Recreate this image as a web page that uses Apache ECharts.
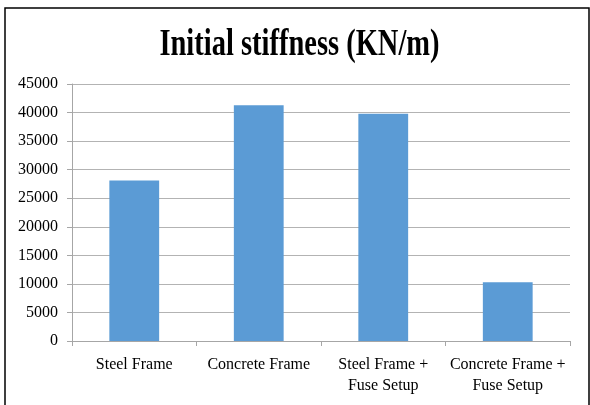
<!DOCTYPE html>
<html><head><meta charset="utf-8">
<script src="https://cdn.jsdelivr.net/npm/echarts@6/dist/echarts.min.js"></script>
<style>html,body{margin:0;padding:0;background:#fff}#c{width:590px;height:405px}</style>
</head><body><div id="c"></div>
<script>
const titleText = "Initial stiffness (KN/m)";
const categories = ["Steel Frame", "Concrete Frame", "Steel Frame +\nFuse Setup", "Concrete Frame +\nFuse Setup"];
const values = [28100, 41300, 39800, 10300];
const yTicks = [0, 45000, 5000];

const chart = echarts.init(document.getElementById('c'), null, {renderer: 'canvas'});
const serif = "'Liberation Serif', 'DejaVu Serif', serif";
chart.setOption({
  animation: false,
  graphic: [{
    type: 'rect', shape: {x: 5, y: 8, width: 584, height: 400},
    style: {fill: 'none', stroke: '#000', lineWidth: 1.5}, silent: true, z: 100
  }, {
    type: 'text', x: 299.5, y: 45, scaleX: 0.77, scaleY: 1,
    style: {text: titleText, fill: '#000', font: "bold 37px 'Liberation Serif', serif",
            textAlign: 'center', textVerticalAlign: 'middle', align: 'center', verticalAlign: 'middle'},
    silent: true
  }],
  grid: {left: 72, right: 20, top: 84, bottom: 64},
  xAxis: {
    type: 'category', data: categories,
    axisLine: {lineStyle: {color: '#a6a6a6'}},
    axisTick: {show: true, length: 5, lineStyle: {color: '#a6a6a6'}},
    axisLabel: {fontFamily: serif, fontSize: 16, color: '#000', margin: 13, lineHeight: 21, interval: 0}
  },
  yAxis: {
    type: 'value', min: yTicks[0], max: yTicks[1], interval: yTicks[2],
    axisLine: {show: true, lineStyle: {color: '#a6a6a6'}},
    axisTick: {show: true, length: 5, lineStyle: {color: '#a6a6a6'}},
    splitLine: {lineStyle: {color: '#b3b3b3'}},
    axisLabel: {fontFamily: serif, fontSize: 16, color: '#000', margin: 14, formatter: v => String(v)}
  },
  series: [{
    type: 'bar', data: values, barWidth: '40%',
    itemStyle: {color: '#5b9bd5'}
  }]
});
</script></body></html>
